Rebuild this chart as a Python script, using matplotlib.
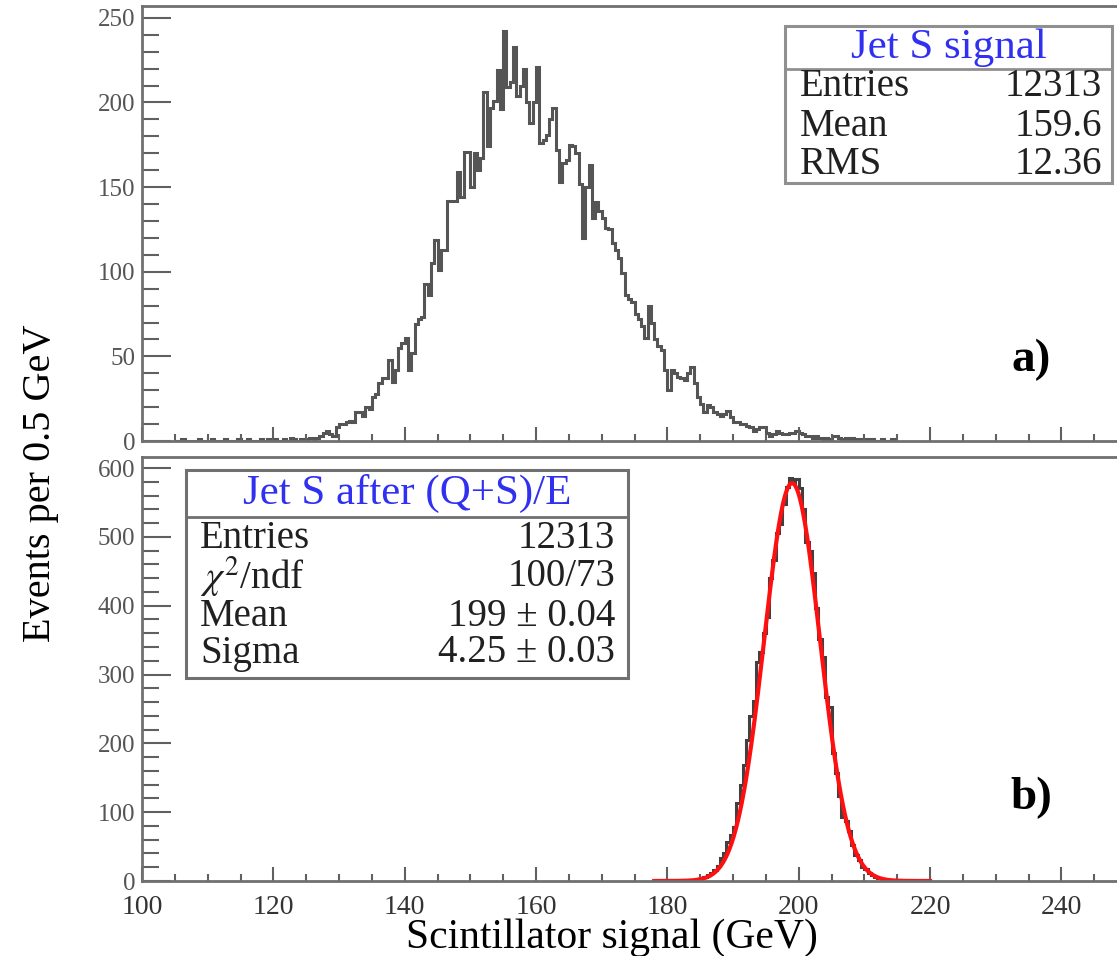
#!/usr/bin/env python3
# Two stacked histograms: raw jet S signal and the corrected one with a Gaussian fit
import numpy as np
import matplotlib.pyplot as plt
from matplotlib.ticker import MultipleLocator
from matplotlib.patches import Rectangle

plt.rcParams['font.family'] = ['Liberation Serif', 'DejaVu Serif']
plt.rcParams['mathtext.fontset'] = 'stix'

bin_width = 0.5

# a) Jet S signal, bins of 0.5 GeV starting at 105 GeV
sig_start = 105.0
sig_counts = [
    0, 0, 1, 0, 0, 0, 0, 1, 0, 0,
    0, 1, 0, 0, 0, 1, 0, 0, 0, 1,
    0, 0, 1, 0, 0, 0, 1, 0, 1, 0,
    1, 0, 0, 1, 0, 2, 1, 0, 1, 1,
    1, 2, 1, 2, 3, 5, 6, 4, 3, 8,
    10, 10, 11, 12, 11, 17, 17, 15, 20, 19,
    26, 28, 34, 37, 37, 48, 35, 42, 55, 58,
    61, 42, 52, 69, 72, 73, 93, 86, 105, 119,
    101, 113, 113, 142, 142, 142, 159, 144, 171, 171,
    150, 170, 160, 167, 206, 174, 197, 201, 219, 196,
    242, 209, 212, 233, 204, 210, 220, 200, 188, 200,
    221, 176, 178, 181, 190, 197, 172, 153, 164, 166,
    175, 174, 170, 152, 120, 150, 163, 132, 141, 136,
    132, 126, 125, 117, 113, 108, 99, 86, 84, 82,
    75, 72, 68, 61, 80, 70, 60, 56, 54, 42,
    30, 42, 40, 38, 37, 36, 40, 44, 34, 26,
    22, 17, 21, 20, 17, 16, 15, 16, 18, 14,
    11, 11, 10, 10, 9, 8, 6, 7, 8, 8,
    5, 3, 4, 6, 5, 4, 4, 5, 5, 6,
    5, 4, 3, 3, 2, 3, 2, 1, 2, 1,
    3, 3, 2, 1, 2, 1, 2, 1, 1, 0,
    1, 0, 1, 0, 0, 1, 0, 0, 1, 0,
]

# b) Jet S after (Q+S)/E, bins of 0.5 GeV starting at 182 GeV
corr_start = 182.0
corr_counts = [
    1, 0, 1, 1, 2, 3, 4, 6, 9, 12,
    16, 22, 33, 40, 56, 67, 79, 113, 140, 168,
    205, 240, 262, 318, 333, 361, 383, 440, 466, 505,
    518, 548, 572, 586, 578, 584, 571, 540, 492, 480,
    447, 396, 352, 326, 268, 253, 186, 157, 124, 93,
    87, 72, 52, 38, 30, 21, 17, 12, 8, 6,
    4, 3, 2, 1, 1, 2, 0,
]

# gaussian fit shown in panel b)
fit_const = 578.0
fit_mean = 199.0
fit_sigma = 4.25
fit_lo, fit_hi = 178.0, 220.0

stats_a = [('Entries', '12313'), ('Mean', '159.6'), ('RMS', '12.36')]
stats_b = [('Entries', '12313'), (r'$\chi^2$/ndf', '100/73'),
           ('Mean', '199 \u00b1 0.04'), ('Sigma', '4.25 \u00b1 0.03')]

W, H = 1117, 956
fig = plt.figure(figsize=(W / 100, H / 100), dpi=100)

ax_a = fig.add_axes([142 / W, 1 - 441 / H, 985 / W, 435 / H])
ax_b = fig.add_axes([142 / W, 1 - 881 / H, 985 / W, 424 / H])

sig_edges = sig_start + bin_width * np.arange(len(sig_counts) + 1)
corr_edges = corr_start + bin_width * np.arange(len(corr_counts) + 1)

ax_a.stairs(sig_counts, sig_edges, color='#555555', lw=2.2)
ax_b.stairs(corr_counts, corr_edges, color='#404040', lw=2.2)

xf = np.linspace(fit_lo, fit_hi, 400)
ax_b.plot(xf, fit_const * np.exp(-0.5 * ((xf - fit_mean) / fit_sigma) ** 2),
          color='#ff1010', lw=3)

ax_a.set_ylim(0, 257)
ax_b.set_ylim(0, 616)
ax_a.yaxis.set_major_locator(MultipleLocator(50))
ax_a.yaxis.set_minor_locator(MultipleLocator(10))
ax_b.yaxis.set_major_locator(MultipleLocator(100))
ax_b.yaxis.set_minor_locator(MultipleLocator(20))

for ax in (ax_a, ax_b):
    ax.set_xlim(100, 250)
    ax.xaxis.set_major_locator(MultipleLocator(20))
    ax.xaxis.set_minor_locator(MultipleLocator(5))
    ax.spines['right'].set_visible(False)
    for s in ('left', 'bottom', 'top'):
        ax.spines[s].set_color('#707070')
        ax.spines[s].set_linewidth(2)
    ax.tick_params(axis='y', which='major', direction='in', length=21, width=1.5,
                   color='#606060', labelsize=18, labelcolor='#555555', pad=5)
    ax.tick_params(axis='y', which='minor', direction='in', length=12, width=1.5,
                   color='#606060')
    ax.tick_params(axis='x', which='major', direction='in', length=10, width=1.5,
                   color='#606060', labelsize=20, labelcolor='#333333', pad=10)
    ax.tick_params(axis='x', which='minor', direction='in', length=5, width=1.5,
                   color='#606060')

ax_a.tick_params(axis='x', labelbottom=False)

fig.text(41 / W, 1 - 483 / H, 'Events per 0.5 GeV', rotation=90,
         ha='center', va='center', fontsize=29)
fig.text(612 / W, 1 - 938 / H, 'Scintillator signal (GeV)',
         ha='center', va='center', fontsize=30)

fig.text(1031 / W, 1 - 360 / H, 'a)', ha='center', va='center', fontsize=34,
         fontweight='bold')
fig.text(1031 / W, 1 - 798 / H, 'b)', ha='center', va='center', fontsize=34,
         fontweight='bold')


def stats_box(x0, y0, x1, y1, ysep, title, rows, row_y, xl, xr, edge):
    fig.patches.append(Rectangle((x0 / W, 1 - y1 / H), (x1 - x0) / W, (y1 - y0) / H,
                                 transform=fig.transFigure, facecolor='white',
                                 edgecolor=edge, lw=2.2))
    fig.add_artist(plt.Line2D([x0 / W, x1 / W], [1 - ysep / H, 1 - ysep / H],
                              transform=fig.transFigure, color=edge, lw=2))
    fig.text((x0 + x1) / 2 / W, 1 - (y0 + ysep) / 2 / H, title, ha='center',
             va='center', fontsize=31, color='#3030f0')
    for (lab, val), yy in zip(rows, row_y):
        fig.text(xl / W, 1 - yy / H, lab, ha='left', va='center', fontsize=28,
                 color='#202020')
        fig.text(xr / W, 1 - yy / H, val, ha='right', va='center', fontsize=28,
                 color='#202020')


stats_box(785, 26, 1112, 183, 69, 'Jet S signal', stats_a, [86, 126, 164],
          800, 1102, '#909090')
stats_box(186, 470, 628, 678, 517, 'Jet S after (Q+S)/E', stats_b,
          [539, 577, 616, 653], 200, 615, '#707070')

fig.savefig('out.png', dpi=100)
